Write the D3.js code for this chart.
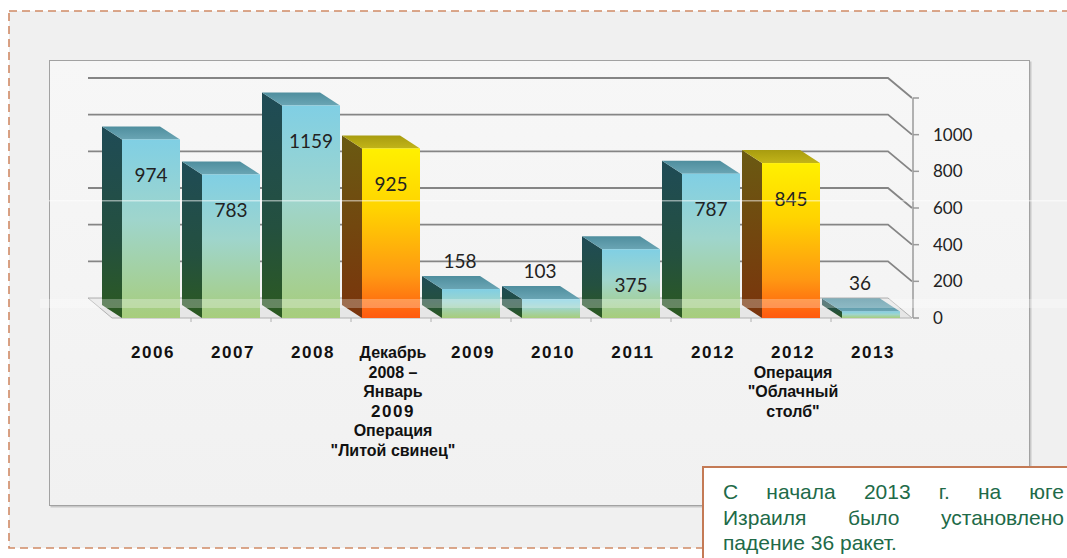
<!DOCTYPE html>
<html lang="ru">
<head>
<meta charset="UTF-8">
<title>Ракеты 2006-2013</title>
<script src="https://d3js.org/d3.v7.min.js"></script>
<style>
	body { margin: 0; background: #fff; }
	svg { display: block; }
	.val { font-family: Lato, "Open Sans", sans-serif; font-size: 19px; fill: #222; }
	.ylab { font-family: Lato, "Open Sans", sans-serif; font-size: 17px; fill: #222; }
	.cat { font-family: "Liberation Sans", Arial, sans-serif; font-size: 16px; font-weight: bold; fill: #111; }
	.yr { font-size: 17px; letter-spacing: 1.6px; }
	.note { font-family: "Liberation Sans", Arial, sans-serif; font-size: 21px; fill: #216a48; }
</style>
</head>
<body>
<div id="chart"></div>
<script>
	// data
	var catLines = [
		["2006"],
		["2007"],
		["2008"],
		["Декабрь", "2008 –", "Январь", "2009", "Операция", "\"Литой свинец\""],
		["2009"],
		["2010"],
		["2011"],
		["2012"],
		["2012", "Операция", "\"Облачный", "столб\""],
		["2013"]
	];
	var values = [974, 783, 1159, 925, 158, 103, 375, 787, 845, 36];
	var operation = [false, false, false, true, false, false, false, false, true, false];
	var yTicks = [0, 200, 400, 600, 800, 1000, 1200];
	var yLabels = ["0", "200", "400", "600", "800", "1000", ""];
	var noteLines = [
		"С начала 2013 г. на юге",
		"Израиля было установлено",
		"падение 36 ракет."
	];

	var W = 1067, H = 558;
	var svg = d3.select("#chart").append("svg")
		.attr("width", W)
		.attr("height", H);

	var defs = svg.append("defs");

	function grad(id, stops, horiz) {
		var g = defs.append("linearGradient").attr("id", id)
			.attr("x1", 0).attr("y1", 0)
			.attr("x2", horiz ? 1 : 0).attr("y2", horiz ? 0 : 1);
		stops.forEach(function (s) {
			g.append("stop").attr("offset", s[0]).attr("stop-color", s[1]);
		});
	}
	grad("frontBlue", [[0, "#80cfe4"], [0.45, "#9fd5cc"], [1, "#a7cd7c"]]);
	grad("sideBlue", [[0, "#1f4b56"], [0.6, "#24503f"], [1, "#2c5a20"]]);
	grad("topBlue", [[0, "#4f8e9e"], [1, "#6aa5b4"]]);
	grad("frontOrange", [[0, "#fff000"], [0.35, "#ffd400"], [0.75, "#ff9812"], [1, "#ff5a10"]]);
	grad("sideOrange", [[0, "#6a5a12"], [1, "#7a340c"]]);
	grad("topOrange", [[0, "#a89c10"], [1, "#c2b418"]]);
	grad("panelFill", [[0, "#f7f7f7"], [1, "#f1f1f1"]]);

	// dashed outer frame
	svg.append("rect")
		.attr("x", 9).attr("y", 11)
		.attr("width", 1080).attr("height", 537)
		.attr("fill", "#f0f0f0")
		.attr("stroke", "#d08a66")
		.attr("stroke-width", 1.6)
		.attr("stroke-dasharray", "8,5");

	// chart panel
	svg.append("rect")
		.attr("x", 50.5).attr("y", 61.5)
		.attr("width", 981).attr("height", 446)
		.attr("fill", "#c8c8c8");
	svg.append("rect")
		.attr("x", 49.5).attr("y", 60.5)
		.attr("width", 980).attr("height", 445)
		.attr("fill", "url(#panelFill)")
		.attr("stroke", "#a2a2a2");

	// scales
	var x = d3.scaleBand()
		.domain(d3.range(values.length))
		.range([112, 912])
		.paddingInner(0);
	var y = d3.scaleLinear()
		.domain([0, 1200])
		.range([318, 98]);

	var wallDx = -24, wallDy = -20;   // depth of the back wall
	var barDx = -20, barDy = -13;     // depth of a bar
	var x0 = x.range()[0], x1 = x.range()[1];

	// back wall grid lines with the bend to the front axis
	var grid = svg.append("g");
	yTicks.forEach(function (t) {
		if (t === 0) return;
		grid.append("path")
			.attr("d", "M" + (x0 + wallDx) + "," + (y(t) + wallDy) +
				"H" + (x1 + wallDx) +
				"L" + x1 + "," + y(t))
			.attr("fill", "none")
			.attr("stroke", "#858585")
			.attr("stroke-width", 1.8);
	});

	// floor
	svg.append("path")
		.attr("d", "M" + (x0 + wallDx) + "," + (y(0) + wallDy) +
			"H" + (x1 + wallDx) + "L" + x1 + "," + y(0) + "H" + x0 + "Z")
		.attr("fill", "#e6e6e6")
		.attr("stroke", "#b0b0b0")
		.attr("stroke-width", 1);

	// front value axis
	svg.append("line")
		.attr("x1", x1 + 1).attr("x2", x1 + 1)
		.attr("y1", y(1200)).attr("y2", y(0))
		.attr("stroke", "#9a9a9a").attr("stroke-width", 1.5);
	yTicks.forEach(function (t, i) {
		svg.append("line")
			.attr("x1", x1 + 1).attr("x2", x1 + 7)
			.attr("y1", y(t)).attr("y2", y(t))
			.attr("stroke", "#9a9a9a").attr("stroke-width", 1.5);
		svg.append("text")
			.attr("class", "ylab")
			.attr("x", x1 + 21)
			.attr("y", y(t))
			.attr("dy", "0.36em")
			.text(yLabels[i]);
	});

	// category ticks on the floor edge
	d3.range(1, values.length).forEach(function (i) {
		svg.append("line")
			.attr("x1", x(i) - 1).attr("x2", x(i) - 1)
			.attr("y1", y(0)).attr("y2", y(0) + 4)
			.attr("stroke", "#b0b0b0");
	});

	// bars
	var bars = svg.append("g");
	values.forEach(function (v, i) {
		var fx = x(i) + 10, fw = 58;
		var top = y(v), bot = y(0);
		var tag = operation[i] ? "Orange" : "Blue";
		var g = bars.append("g");
		// side face
		g.append("path")
			.attr("d", "M" + fx + "," + top +
				"L" + (fx + barDx) + "," + (top + barDy) +
				"L" + (fx + barDx) + "," + (bot + barDy) +
				"L" + fx + "," + bot + "Z")
			.attr("fill", "url(#side" + tag + ")");
		// top face
		g.append("path")
			.attr("d", "M" + fx + "," + top +
				"L" + (fx + barDx) + "," + (top + barDy) +
				"L" + (fx + fw + barDx) + "," + (top + barDy) +
				"L" + (fx + fw) + "," + top + "Z")
			.attr("fill", "url(#top" + tag + ")");
		// front face
		g.append("rect")
			.attr("x", fx).attr("y", top)
			.attr("width", fw).attr("height", Math.max(bot - top, 0.5))
			.attr("fill", "url(#front" + tag + ")");
		// value label
		var small = v < 250;
		g.append("text")
			.attr("class", "val")
			.attr("text-anchor", "middle")
			.attr("x", small ? fx + fw / 2 - 11 : fx + fw / 2)
			.attr("y", small ? top - 28 : top + 36)
			.attr("dy", "0.35em")
			.text(v);
	});

	// light scan bands of the source picture
	svg.append("rect")
		.attr("x", 40).attr("y", 299)
		.attr("width", W - 40).attr("height", 9)
		.attr("fill", "#fff").attr("opacity", 0.28);
	svg.append("rect")
		.attr("x", 49).attr("y", 200)
		.attr("width", W - 49).attr("height", 1.5)
		.attr("fill", "#fff").attr("opacity", 0.5);

	// category labels
	catLines.forEach(function (lines, i) {
		var t = svg.append("text")
			.attr("class", "cat")
			.attr("text-anchor", "middle")
			.attr("x", x(i) + x.bandwidth() / 2 + 1)
			.attr("y", 358);
		lines.forEach(function (s, j) {
			t.append("tspan")
				.attr("class", /^\d{4}$/.test(s) ? "yr" : null)
				.attr("x", x(i) + x.bandwidth() / 2 + 1)
				.attr("dy", j === 0 ? 0 : 19.6)
				.text(s);
		});
	});

	// note box
	svg.append("rect")
		.attr("x", 703).attr("y", 467)
		.attr("width", 420).attr("height", 120)
		.attr("fill", "#fff")
		.attr("stroke", "#c47a55")
		.attr("stroke-width", 2);

	var left = 723, right = 1064;
	noteLines.forEach(function (line, k) {
		var words = line.split(" ");
		var yy = 499 + k * 25.5;
		var last = k === noteLines.length - 1;
		var nodes = words.map(function (w) {
			return svg.append("text").attr("class", "note").attr("y", yy).text(w);
		});
		var widths = nodes.map(function (n) { return n.node().getComputedTextLength(); });
		var gap = last ? 5.8 : (right - left - d3.sum(widths)) / (words.length - 1);
		var cx = left;
		nodes.forEach(function (n, j) {
			n.attr("x", cx);
			cx += widths[j] + gap;
		});
	});
</script>
</body>
</html>
